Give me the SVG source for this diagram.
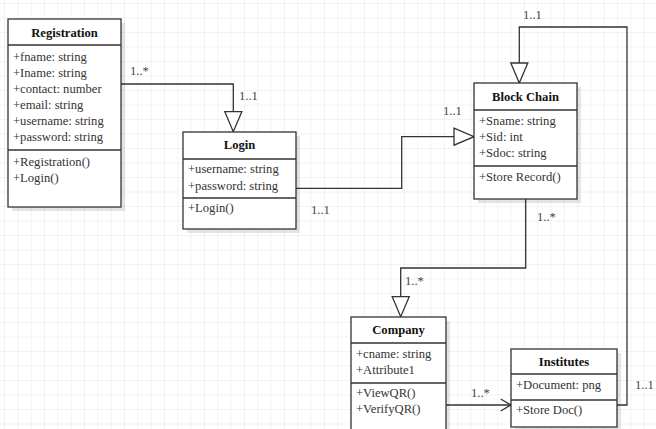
<svg xmlns="http://www.w3.org/2000/svg" width="656" height="429" viewBox="0 0 656 429">
<style>
.box{fill:#ffffff;stroke:#333333;stroke-width:1.3}
.shadow{fill:#000000;opacity:0.1}
.sep{stroke:#333333;stroke-width:1.3}
.t{font-family:"Liberation Serif","Times New Roman",serif;font-size:12.6px;fill:#333333}
.title{font-family:"Liberation Serif","Times New Roman",serif;font-size:12.6px;font-weight:bold;fill:#111111;text-anchor:middle}
.lbl{font-family:"Liberation Serif","Times New Roman",serif;font-size:12.6px;fill:#444444}
.conn{fill:none;stroke:#333333;stroke-width:1.3}
</style>
<defs>
<pattern id="grid" x="4" y="3" width="13.33" height="14.5" patternUnits="userSpaceOnUse">
<path d="M0,0 V14.5 M0,0 H13.33" fill="none" stroke="#e6e6e6" stroke-width="1"/>
</pattern>
<marker id="tri" markerUnits="userSpaceOnUse" markerWidth="22" markerHeight="19" refX="20" refY="8.5" orient="auto" overflow="visible">
<path d="M0,0 L20,8.5 L0,17 Z" fill="#ffffff" stroke="#333333" stroke-width="1.3"/>
</marker>
<marker id="open" markerUnits="userSpaceOnUse" markerWidth="12" markerHeight="14" refX="10" refY="6" orient="auto" overflow="visible">
<path d="M0,0 L10,6 L0,12" fill="none" stroke="#333333" stroke-width="1.3"/>
</marker>
</defs>
<rect width="656" height="429" fill="#ffffff"/>
<rect width="656" height="429" fill="url(#grid)"/>

<g id="connectors">
<path class="conn" d="M121,84 H233.3 V131.7" marker-end="url(#tri)"/>
<path class="conn" d="M296,188.3 H401.7 V136.7 H474" marker-end="url(#tri)"/>
<path class="conn" d="M525.7,199 V268 H400.7 V316.7" marker-end="url(#tri)"/>
<path class="conn" d="M445.7,405 H510.7" marker-end="url(#open)"/>
<path class="conn" d="M617,405 H627 V27 H519.3 V83" marker-end="url(#tri)"/>
<text class="lbl" x="130" y="75">1..*</text>
<text class="lbl" x="239" y="100">1..1</text>
<text class="lbl" x="443" y="115">1..1</text>
<text class="lbl" x="311" y="214">1..1</text>
<text class="lbl" x="523" y="19">1..1</text>
<text class="lbl" x="537" y="221">1..*</text>
<text class="lbl" x="405" y="285">1..*</text>
<text class="lbl" x="471" y="397">1..*</text>
<text class="lbl" x="635" y="389">1..1</text>
</g>

<g id="registration">
<rect class="shadow" x="12" y="23" width="113" height="188"/>
<rect class="box" x="8" y="19" width="113" height="188"/>
<line class="sep" x1="8" y1="45" x2="121" y2="45"/>
<line class="sep" x1="8" y1="150" x2="121" y2="150"/>
<text class="title" x="64.5" y="37">Registration</text>
<text class="t" x="13" y="61">+fname: string</text>
<text class="t" x="13" y="77">+Iname: string</text>
<text class="t" x="13" y="93">+contact: number</text>
<text class="t" x="13" y="109">+email: string</text>
<text class="t" x="13" y="125">+username: string</text>
<text class="t" x="13" y="141">+password: string</text>
<text class="t" x="13" y="166">+Registration()</text>
<text class="t" x="13" y="182">+Login()</text>
</g>

<g id="login">
<rect class="shadow" x="187" y="136" width="113" height="97"/>
<rect class="box" x="183" y="132" width="113" height="97"/>
<line class="sep" x1="183" y1="159" x2="296" y2="159"/>
<line class="sep" x1="183" y1="198" x2="296" y2="198"/>
<text class="title" x="239.5" y="149">Login</text>
<text class="t" x="188" y="173">+username: string</text>
<text class="t" x="188" y="190">+password: string</text>
<text class="t" x="188" y="212">+Login()</text>
</g>

<g id="blockchain">
<rect class="shadow" x="478" y="87" width="103" height="116"/>
<rect class="box" x="474" y="83" width="103" height="116"/>
<line class="sep" x1="474" y1="110" x2="577" y2="110"/>
<line class="sep" x1="474" y1="166" x2="577" y2="166"/>
<text class="title" x="525.5" y="101">Block Chain</text>
<text class="t" x="479" y="125">+Sname: string</text>
<text class="t" x="479" y="141">+Sid: int</text>
<text class="t" x="479" y="157">+Sdoc: string</text>
<text class="t" x="479" y="181">+Store Record()</text>
</g>

<g id="company">
<rect class="shadow" x="355" y="321" width="95" height="120"/>
<rect class="box" x="351" y="317" width="95" height="120"/>
<line class="sep" x1="351" y1="343" x2="446" y2="343"/>
<line class="sep" x1="351" y1="383" x2="446" y2="383"/>
<text class="title" x="398.5" y="334">Company</text>
<text class="t" x="356" y="358">+cname: string</text>
<text class="t" x="356" y="374">+Attribute1</text>
<text class="t" x="356" y="397">+ViewQR()</text>
<text class="t" x="356" y="413">+VerifyQR()</text>
</g>

<g id="institutes">
<rect class="shadow" x="515" y="353" width="106" height="78"/>
<rect class="box" x="511" y="349" width="106" height="78"/>
<line class="sep" x1="511" y1="374" x2="617" y2="374"/>
<line class="sep" x1="511" y1="400" x2="617" y2="400"/>
<text class="title" x="564" y="366">Institutes</text>
<text class="t" x="516" y="389">+Document: png</text>
<text class="t" x="516" y="414">+Store Doc()</text>
</g>
</svg>
